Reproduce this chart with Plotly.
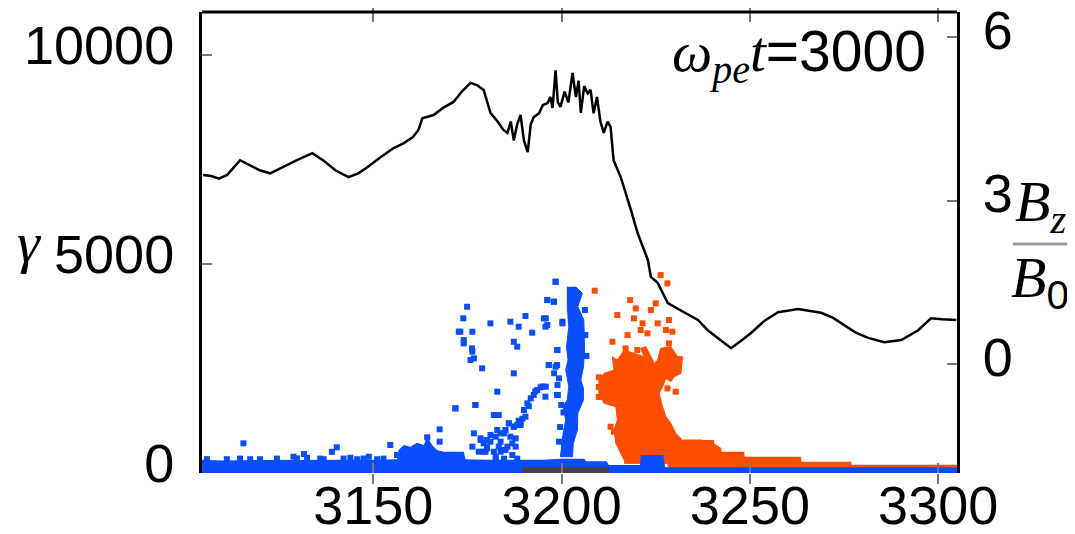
import plotly.graph_objects as go

# ---------------- data ----------------
# Bz/B0 profile (right axis)
bz_x = [3104.8, 3107, 3109, 3111.2, 3114.6, 3117, 3120, 3122.6, 3126, 3130, 3133.8, 3137, 3140,
        3143.4, 3146, 3148.4, 3152, 3155.3, 3158, 3160.6, 3162, 3163.0, 3166.0, 3168.5, 3171.3,
        3173.5, 3175.8, 3177.5, 3179.3, 3181.1, 3183, 3184.5, 3185.6, 3186.5, 3187.3, 3188.2,
        3189.1, 3190, 3191.0, 3191.8, 3192.6, 3194, 3195, 3196.3, 3197, 3197.6, 3198.4, 3199.0,
        3199.7, 3200.8, 3201.8, 3202.9, 3203.8, 3204.5, 3205.1, 3206, 3206.9, 3207.7, 3208.5,
        3209.4, 3210.3, 3211.2, 3212.2, 3213.0, 3213.8, 3215.7, 3218.4, 3220.2, 3222.9, 3223.7,
        3225.5, 3228.2, 3232.5, 3236.2, 3238.8, 3242, 3245.0, 3247.5, 3250.3, 3254, 3257.5,
        3262.8, 3268.9, 3272, 3275.0, 3278, 3281.4, 3285.7, 3290.2, 3294.7, 3298.1, 3301, 3304.8]
bz_val = [3.47, 3.45, 3.40, 3.47, 3.74, 3.65, 3.55, 3.50, 3.62, 3.75, 3.87, 3.72, 3.55,
          3.43, 3.50, 3.61, 3.80, 3.96, 4.05, 4.17, 4.30, 4.51, 4.57, 4.70, 4.81,
          5.00, 5.16, 5.12, 5.03, 4.61, 4.45, 4.30, 4.24, 4.45, 4.10, 4.40,
          4.57, 4.10, 3.89, 4.40, 4.53, 4.60, 4.75, 4.79, 4.90, 4.70, 5.39, 4.80,
          4.72, 5.00, 4.80, 5.34, 4.90, 5.20, 4.61, 5.10, 4.97, 5.03, 4.60,
          4.90, 4.45, 4.24, 4.45, 4.35, 3.74, 3.43, 2.83, 2.40, 1.91, 1.60,
          1.49, 1.12, 0.95, 0.81, 0.62, 0.45, 0.29, 0.42, 0.57, 0.80, 0.95,
          1.01, 0.94, 0.85, 0.72, 0.58, 0.48, 0.40, 0.44, 0.62, 0.84, 0.82, 0.81]

# dense low-energy blue population: upper edge of the band
band_x = [3104.0, 3110, 3120, 3130, 3140, 3150, 3156.3, 3156.7, 3158.1, 3159.8, 3161.6, 3163.4,
          3164.3, 3165.6, 3166.9, 3168.7, 3174.0, 3174.5, 3180, 3195, 3199.5, 3206, 3206.5,
          3212, 3212.5, 3220.8, 3221.0, 3227.0, 3227.5, 3305.5]
band_g = [320, 300, 310, 310, 310, 320, 330, 550, 670, 630, 726, 670,
          869, 670, 550, 510, 510, 330, 320, 320, 340, 340, 280,
          280, 190, 190, 430, 430, 140, 140]

# dense blue column near x = 3202 (outline)
col_x = [3201.5, 3201.5, 3201.9, 3201.3, 3201.7, 3201.1, 3201.9, 3201.5, 3200.4, 3201.1, 3200.4,
         3199.9, 3199.7, 3202.9, 3203.1, 3204.2, 3204.3, 3205.8, 3205.8, 3205.1, 3205.8, 3206.1,
         3205.9, 3204.3, 3205.5, 3203.7]
col_g = [4457, 3979, 3500, 3022, 2703, 2464, 2065, 1746, 1587, 1268, 949,
         630, 391, 391, 710, 1029, 1427, 1746, 2025, 2225, 2543, 2942,
         3660, 3979, 4298, 4457]

# individual blue particles
blue_x = [3115.5, 3139.0, 3140.3, 3131.6, 3154.5, 3164.3, 3167.6, 3167.6, 3171.8, 3174.9, 3173.9,
          3172.7, 3176.3, 3174.0, 3176.3, 3175.8, 3178.9, 3177.1, 3181.1, 3186.4, 3188.6, 3190.4,
          3192.2, 3187.3, 3188.2, 3187.3, 3182.9, 3195.3, 3195.7, 3196.2, 3197.9, 3198.4, 3200.2,
          3198.8, 3196.6, 3198.8, 3198.8, 3195.7, 3182.0, 3183.3, 3173.1, 3174.0, 3176.2, 3176.7,
          3171.8, 3177.1,
          3178.5, 3180.2, 3181.1, 3182.9, 3183.8, 3184.7, 3186.0, 3186.4, 3187.3, 3187.8, 3188.2,
          3189.1, 3190.0, 3190.4, 3190.9, 3191.8, 3192.6, 3193.5, 3194.4, 3195.8, 3183.8, 3185.1,
          3179.3, 3182.5, 3186.9, 3176.7, 3176.3, 3178.0, 3180.2, 3186.9, 3187.8, 3185.6, 3183.3,
          3184.7, 3182.0, 3179.8, 3188.2, 3184.7, 3182.5, 3179.3, 3180.2, 3178.5, 3185.1, 3183.8,
          3182.5, 3181.1, 3186.0, 3189.1, 3187.3, 3193.0, 3194.9, 3191.3, 3189.6, 3188.6,
          3198.4, 3196.2, 3198.0, 3195.8, 3196.2, 3200.2, 3198.9, 3196.6, 3198.4, 3198.0, 3199.3,
          3198.9, 3199.0, 3199.9, 3199.3, 3200.8, 3199.6, 3200.5, 3206.3, 3206.6, 3206.2,
          3105.8, 3111.1, 3114.6, 3117.3, 3119.9, 3124.4, 3128.8, 3129.7, 3132.4, 3135.9, 3136.8,
          3142.1, 3143.9, 3145.7, 3147.4, 3148.8, 3151.0, 3152.7, 3156.3]
blue_g = [710, 507, 614, 454, 670, 854, 1045, 749, 1547, 3978, 3700,
          3380, 3380, 3102, 2902, 2703, 2504, 1627, 3580, 3620, 3500, 3756,
          3357, 3141, 3022, 2385, 1945, 3700, 3500, 4138, 4098, 4576, 3620,
          2942, 2583, 2583, 1866, 1826, 1387, 1387, 3381, 3181, 2982, 2743,
          1547, 1627,
          789, 630, 909, 1029, 749, 949, 1188, 869, 1108, 630, 1148,
          1188, 1507, 1348, 1667, 1786, 1866, 1985, 2050, 2065, 510, 550,
          510, 390, 431, 949, 630, 510, 789, 710, 829, 630, 630,
          550, 510, 510, 343, 343, 343, 710, 590, 829, 1029, 949,
          869, 749, 1188, 1148, 1108, 1950, 2070, 1600, 1300, 1250,
          4576, 4138, 4098, 3700, 3540, 3580, 2942, 2583, 2543, 2385, 2265,
          2105, 1866, 1627, 749, 630, 1100, 1450, 3300, 2800, 3900,
          330, 330, 345, 330, 330, 345, 390, 350, 365, 345, 330,
          345, 365, 330, 345, 390, 330, 345, 431]

# dense orange population (outline of the main cloud)
ob_x = [3216.6, 3214.4, 3213.9, 3214.8, 3214.4, 3211.3, 3209.9, 3209.9, 3211.3, 3213.9, 3213.5,
        3214.8, 3216.6, 3219.2, 3221.9, 3221.0, 3222.4, 3224.6, 3225.5, 3226.3, 3229.0, 3230.8,
        3232.1, 3231.7, 3229.9, 3229.0, 3227.7, 3226.8, 3225.9, 3226.8, 3227.7, 3229.0, 3230.3,
        3232.1, 3234.3, 3237.0, 3239.6, 3242.3, 3242.3, 3216.6]
ob_g = [311, 710, 1029, 1268, 1587, 1667, 1906, 2225, 2385, 2464, 2783,
        2703, 2942, 2862, 2783, 2982, 3022, 2623, 2703, 2982, 3022, 2783,
        2783, 2385, 2304, 2185, 2265, 2065, 1906, 1587, 1348, 1188, 949,
        789, 789, 789, 749, 590, 231, 231]

# orange high-x tail (upper edge)
ot_x = [3228.1, 3232.5, 3234.3, 3240.5, 3240.6, 3248.5, 3248.6, 3263.6, 3263.7, 3276.9, 3277.0, 3305.3]
ot_g = [630, 630, 789, 789, 510, 510, 391, 391, 271, 271, 200, 200]

# individual orange particles
or_x = [3208.8, 3209.9, 3209.9, 3209.9, 3218.2, 3219.7, 3214.8, 3219.2, 3223.7, 3225.0, 3226.3,
        3228.1, 3228.5, 3221.5, 3221.0, 3217.5, 3222.8, 3225.5, 3227.7, 3229.4, 3213.5, 3217.0,
        3220.1, 3228.5, 3228.1, 3230.3, 3213.9, 3213.0]
or_g = [4361, 2290, 2060, 1820, 4138, 3939, 3779, 3700, 3899, 4059, 4736,
        4537, 3660, 3580, 3421, 3301, 3341, 3580, 3421, 3381, 3141, 2982,
        2942, 3102, 2025, 1945, 988, 1108]

# dark third population at the bottom
dk_x = [3189.6, 3212.5]
dk_g = [140, 140]

x_ticks = [3150, 3200, 3250, 3300]
x_text = ["3150", "3200", "3250", "3300"]
y_ticks = [0, 5000, 10000]
y_text = ["0", "5000", "10000"]
b_ticks = [0, 3, 6]
b_text = ["0", "3", "6"]

BLUE = "#0a4dff"
ORANGE = "#ff4d00"
TICKFONT = dict(family="Liberation Sans, Arial", size=54, color="black")

fig = go.Figure()
fig.add_trace(go.Scatter(x=ot_x, y=ot_g, mode="lines", fill="tozeroy", line=dict(width=0),
                         fillcolor=ORANGE, hoverinfo="skip"))
fig.add_trace(go.Scatter(x=ob_x, y=ob_g, mode="lines", fill="toself", line=dict(width=1, color=ORANGE),
                         fillcolor=ORANGE, hoverinfo="skip"))
fig.add_trace(go.Scatter(x=or_x, y=or_g, mode="markers",
                         marker=dict(symbol="square", size=6, color=ORANGE)))
fig.add_trace(go.Scatter(x=band_x, y=band_g, mode="lines", fill="tozeroy", line=dict(width=0),
                         fillcolor=BLUE, hoverinfo="skip"))
fig.add_trace(go.Scatter(x=col_x, y=col_g, mode="lines", fill="toself", line=dict(width=1, color=BLUE),
                         fillcolor=BLUE, hoverinfo="skip"))
fig.add_trace(go.Scatter(x=blue_x, y=blue_g, mode="markers",
                         marker=dict(symbol="square", size=6, color=BLUE)))
fig.add_trace(go.Scatter(x=dk_x, y=dk_g, mode="lines", fill="tozeroy", line=dict(width=0),
                         fillcolor="#444444", hoverinfo="skip"))
fig.add_trace(go.Scatter(x=bz_x, y=bz_val, mode="lines", yaxis="y2",
                         line=dict(color="black", width=2.5)))

# the page body has an 8 px margin: the figure is sized and offset to compensate
fig.update_layout(
    width=1067, height=526,
    margin=dict(l=194, r=118, t=4, b=61, autoexpand=False),
    paper_bgcolor="white", plot_bgcolor="white",
    showlegend=False,
    xaxis=dict(range=[3104.5, 3305], tickvals=x_ticks, ticktext=x_text, ticks="inside",
               ticklen=10, tickwidth=2, tickcolor="#777", showline=False, mirror="allticks",
               showgrid=False, zeroline=False, tickfont=TICKFONT, automargin=False,
               ticklabelstandoff=-4, ticklabeloverflow="allow"),
    yaxis=dict(range=[0, 11030], tickvals=y_ticks, ticktext=y_text, ticks="inside", ticklen=10,
               tickwidth=2, tickcolor="#777", showline=True, linewidth=3, linecolor="black",
               showgrid=False, zeroline=False, tickfont=TICKFONT, ticklabelshift=-10,
               ticklabelstandoff=14, automargin=False, ticklabeloverflow="allow"),
    yaxis2=dict(range=[-2.0, 6.46], tickvals=b_ticks, ticktext=b_text, overlaying="y",
                side="right", ticks="inside", ticklen=10, tickwidth=2, tickcolor="#777",
                showline=True, linewidth=3, linecolor="black", showgrid=False, zeroline=False,
                tickfont=TICKFONT, ticklabelshift=-7, ticklabelstandoff=12, automargin=False,
                ticklabeloverflow="allow"),
    shapes=[
        dict(type="line", xref="paper", yref="paper", x0=0, x1=1, y0=1, y1=1,
             line=dict(color="black", width=3)),
        dict(type="line", xref="paper", yref="paper", x0=1.074, x1=1.150, y0=0.497, y1=0.497,
             line=dict(color="#999", width=3)),
    ],
    annotations=[
        dict(xref="paper", yref="paper", x=0.962, y=0.905, xanchor="right", yanchor="middle",
             showarrow=False,
             text='<span style="font-family:Liberation Serif"><i>ω</i><sub><i>pe</i></sub><i>t</i></span>=3000',
             font=dict(family="Liberation Sans, Arial", size=57, color="black")),
        dict(xref="paper", yref="paper", x=-0.228, y=0.50, xanchor="center", yanchor="middle",
             showarrow=False, text="<i>γ</i>",
             font=dict(family="Liberation Serif", size=58, color="black")),
        dict(xref="paper", yref="paper", x=1.110, y=0.58, xanchor="center", yanchor="middle",
             showarrow=False, text="<i>B</i><sub><i>z</i></sub>",
             font=dict(family="Liberation Serif", size=58, color="black")),
        dict(xref="paper", yref="paper", x=1.110, y=0.415, xanchor="center", yanchor="middle",
             showarrow=False,
             text='<i>B</i><sub><span style="font-family:Liberation Sans">0</span></sub>',
             font=dict(family="Liberation Serif", size=58, color="black")),
    ],
)

fig.write_html("out.html")
